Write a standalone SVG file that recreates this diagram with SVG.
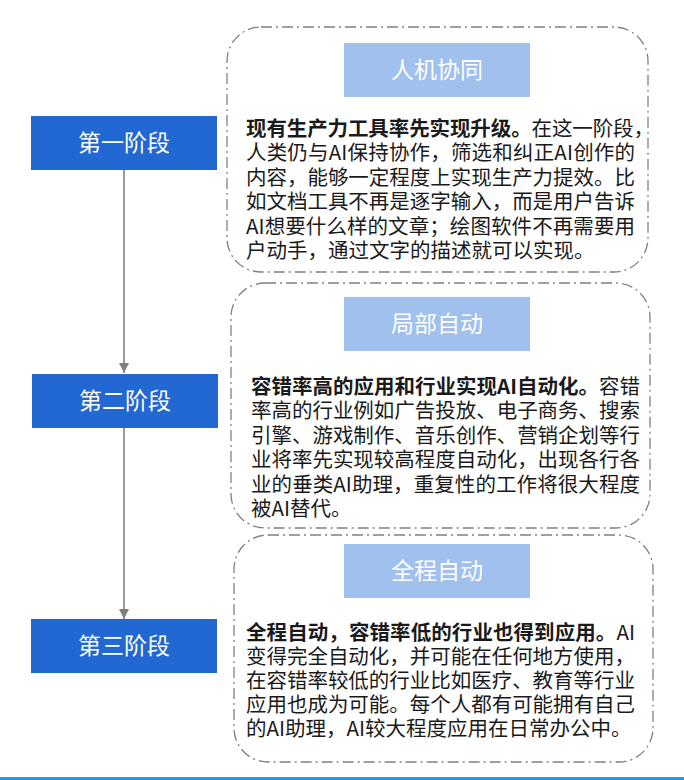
<svg xmlns="http://www.w3.org/2000/svg" width="684" height="780" viewBox="0 0 684 780">
<defs>
<style>
.frame{fill:none;stroke:#808080;stroke-width:1.3;stroke-dasharray:11 4 2 4}
.stage{fill:#2168d2}
.stext{fill:#ffffff;font-family:"Noto Sans CJK SC","Noto Sans",sans-serif;font-size:23px;text-anchor:middle}
.label{fill:#a0c0ee}
.ltext{fill:#ffffff;font-family:"Noto Sans CJK SC","Noto Sans",sans-serif;font-size:23px;text-anchor:middle}
.body{fill:#1a1a1a;font-family:"Noto Sans CJK SC","Noto Sans",sans-serif;font-size:20.5px}
.b{font-weight:bold}
.conn{stroke:#808080;stroke-width:1.6;fill:none}
</style>
<marker id="arr" viewBox="0 0 10 10" refX="10" refY="5" markerWidth="10" markerHeight="10" markerUnits="userSpaceOnUse" orient="auto">
<path d="M0,0 L10,5 L0,10 Z" fill="#808080"/>
</marker>
</defs>
<rect width="684" height="780" fill="#ffffff"/>

<g id="connectors">
<line class="conn" x1="124" y1="170" x2="124" y2="373" marker-end="url(#arr)"/>
<line class="conn" x1="124" y1="428" x2="124" y2="619" marker-end="url(#arr)"/>
</g>

<g id="stage1">
<rect class="stage" x="31" y="116" width="186" height="54"/>
<text class="stext" x="124" y="151">第一阶段</text>
</g>
<g id="stage2">
<rect class="stage" x="32" y="374" width="186" height="54"/>
<text class="stext" x="125" y="409">第二阶段</text>
</g>
<g id="stage3">
<rect class="stage" x="31" y="619" width="186" height="54"/>
<text class="stext" x="124" y="654">第三阶段</text>
</g>

<g id="panel1">
<rect class="frame" x="227" y="27" width="421" height="245" rx="34" ry="34"/>
<rect class="label" x="344" y="43" width="186" height="54"/>
<text class="ltext" x="437" y="78">人机协同</text>
<text class="body" x="246" y="135.5" textLength="408"><tspan class="b">现有生产力工具率先实现升级。</tspan>在这一阶段，</text>
<text class="body" x="246" y="160" textLength="389">人类仍与AI保持协作，筛选和纠正AI创作的</text>
<text class="body" x="246" y="184.5" textLength="389">内容，能够一定程度上实现生产力提效。比</text>
<text class="body" x="246" y="209" textLength="389">如文档工具不再是逐字输入，而是用户告诉</text>
<text class="body" x="246" y="233.5" textLength="389">AI想要什么样的文章；绘图软件不再需要用</text>
<text class="body" x="246" y="258">户动手，通过文字的描述就可以实现。</text>
</g>

<g id="panel2">
<rect class="frame" x="231" y="283" width="419" height="245" rx="34" ry="34"/>
<rect class="label" x="344" y="297" width="186" height="54"/>
<text class="ltext" x="437" y="332">局部自动</text>
<text class="body" x="251" y="393.5" textLength="389"><tspan class="b">容错率高的应用和行业实现AI自动化。</tspan>容错</text>
<text class="body" x="251" y="418" textLength="389">率高的行业例如广告投放、电子商务、搜索</text>
<text class="body" x="251" y="442.5" textLength="389">引擎、游戏制作、音乐创作、营销企划等行</text>
<text class="body" x="251" y="467" textLength="389">业将率先实现较高程度自动化，出现各行各</text>
<text class="body" x="251" y="491.5" textLength="389">业的垂类AI助理，重复性的工作将很大程度</text>
<text class="body" x="251" y="516">被AI替代。</text>
</g>

<g id="panel3">
<rect class="frame" x="234" y="535" width="419" height="227" rx="34" ry="34"/>
<rect class="label" x="344" y="544" width="186" height="54"/>
<text class="ltext" x="437" y="579">全程自动</text>
<text class="body" x="246" y="639.5" textLength="389"><tspan class="b">全程自动，容错率低的行业也得到应用。</tspan>AI</text>
<text class="body" x="246" y="664" textLength="389">变得完全自动化，并可能在任何地方使用，</text>
<text class="body" x="246" y="688" textLength="389">在容错率较低的行业比如医疗、教育等行业</text>
<text class="body" x="246" y="712" textLength="389">应用也成为可能。每个人都有可能拥有自己</text>
<text class="body" x="246" y="736">的AI助理，AI较大程度应用在日常办公中。</text>
</g>

<rect x="0" y="777" width="684" height="3" fill="#1e9be6"/>
</svg>
